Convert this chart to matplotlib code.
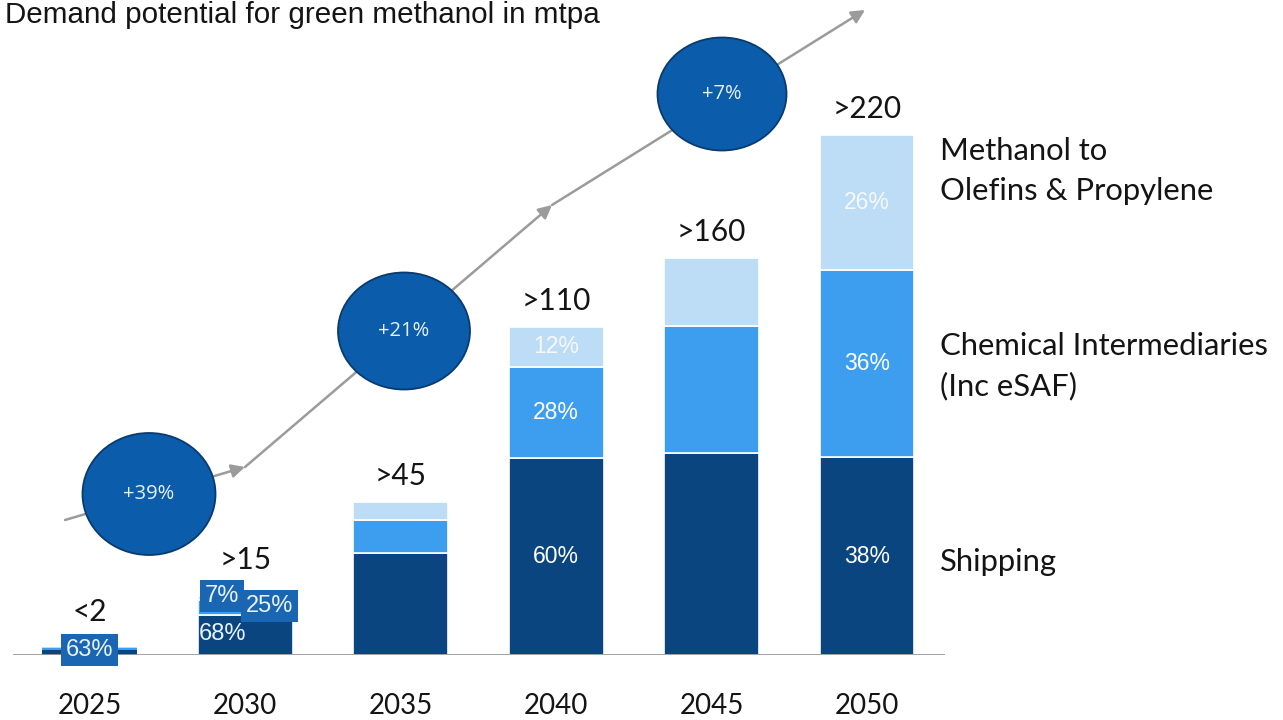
import matplotlib
matplotlib.use("Agg")
import matplotlib.pyplot as plt
from matplotlib.patches import Ellipse
import numpy as np

# ---- data -------------------------------------------------------------
years = ["2025", "2030", "2035", "2040", "2045", "2050"]
totals = [3.4, 25.0, 64.7, 138.7, 168.0, 220.0]          # bar heights (mtpa)
total_labels = ["<2", ">15", ">45", ">110", ">160", ">220"]
shipping_pct = [63, 68, 67, 60, 51, 38]
chemical_pct = [30, 25, 21, 28, 32, 36]
olefins_pct = [7, 7, 12, 12, 17, 26]
segment_names = ["Shipping",
                 "Chemical Intermediaries\n(Inc eSAF)",
                 "Methanol to\nOlefins & Propylene"]
growth_labels = ["+39%", "+21%", "+7%"]

# ---- styling ----------------------------------------------------------
C_SHIP = "#0a457f"
C_CHEM = "#3d9def"
C_OLEF = "#bddcf5"
C_BOX = "#1a66b3"
C_CIRC = "#0b5cab"
C_CIRC_EDGE = "#0a3b6e"
C_GREY = "#9b9b9b"
TXT = "#141414"
SANS = ["Lato", "DejaVu Sans"]
ARIAL = ["Liberation Sans", "DejaVu Sans"]

W, H = 1283, 720
fig = plt.figure(figsize=(W / 100, H / 100), dpi=100)
fig.patch.set_facecolor("white")

ax = fig.add_axes([13 / W, 65 / H, 932 / W, 567 / H])
ax.set_xlim(-0.495, 5.502)
ax.set_ylim(0, 240)
for s in ax.spines.values():
    s.set_visible(False)
ax.set_yticks([])

x = np.arange(len(years))
tot = np.array(totals)
ship = tot * np.array(shipping_pct) / 100
chem = tot * np.array(chemical_pct) / 100
olef = tot * np.array(olefins_pct) / 100

bw = 0.611
lw = [0, 1.2, 1.2, 1.2, 1.2, 1.2]
ax.bar(x, ship, bw, color=C_SHIP, edgecolor="white", linewidth=lw, zorder=2)
ax.bar(x, chem, bw, bottom=ship, color=C_CHEM, edgecolor="white", linewidth=lw, zorder=2)
ax.bar(x, olef, bw, bottom=ship + chem, color=C_OLEF, edgecolor="white", linewidth=lw, zorder=2)
ax.axhline(0, color=C_GREY, lw=2, zorder=3)

ax.set_xticks(x, years)
ax.tick_params(axis="x", length=0, pad=27)
for t in ax.get_xticklabels():
    t.set_fontfamily(SANS)
    t.set_fontsize(20)
    t.set_color(TXT)

# total labels above bars
lift = [25, 26, 19, 19, 19, 19]
for xi, t, lab, lf in zip(x, tot, total_labels, lift):
    ax.annotate(lab, (xi, t), xytext=(0, lf), textcoords="offset points",
                ha="center", va="center", fontsize=21.5, family=SANS, color=TXT)

# share labels centred in segments
pct_kw = dict(ha="center", va="center", fontsize=16.5, family=ARIAL, zorder=4)
for i in (3, 5):
    ax.text(x[i], ship[i] / 2, f"{shipping_pct[i]}%", color="white", **pct_kw)
    ax.text(x[i], ship[i] + chem[i] / 2, f"{chemical_pct[i]}%", color="white", **pct_kw)
    ax.text(x[i], ship[i] + chem[i] + olef[i] / 2, f"{olefins_pct[i]}%",
            color="#f4f9fe", **pct_kw)

# boxed share labels on the small bars
box = dict(boxstyle="square,pad=0.2", fc=C_BOX, ec="none")
box_kw = dict(ha="center", va="center", fontsize=17, family=ARIAL,
              color="#e8f3fd", zorder=5)
ax.text(x[0], 2.1, f"{shipping_pct[0]}%", bbox=box, **box_kw)
ax.text(x[1] - 0.148, 25.0, f"{olefins_pct[1]}%", bbox=box, **box_kw)
ax.text(x[1] + 0.154, 20.7, f"{chemical_pct[1]}%", bbox=box, **box_kw)
ax.text(x[1] - 0.148, 8.9, f"{shipping_pct[1]}%", **box_kw)

# ---- overlay in pixel space: growth path and circles -----------------
ov = fig.add_axes([0, 0, 1, 1])
ov.set_xlim(0, W)
ov.set_ylim(H, 0)
ov.axis("off")

path = [(65, 520), (245, 467), (552, 205), (865, 10)]
for a, b in zip(path[:-1], path[1:]):
    ov.annotate("", xy=b, xytext=a,
                arrowprops=dict(arrowstyle="-|>", color=C_GREY, lw=1.8,
                                mutation_scale=20, shrinkA=0, shrinkB=0))

circles = [((149, 494), 133, 122), ((404, 331), 132, 117), ((722, 94), 129, 113)]
for (c, w, h), lab in zip(circles, growth_labels):
    ov.add_patch(Ellipse(c, w, h, fc=C_CIRC, ec=C_CIRC_EDGE, lw=1.3, zorder=3))
    ov.text(c[0], c[1], lab, ha="center", va="center", color="#e6f1fb",
            fontsize=14.5, family=["Open Sans", "DejaVu Sans"], zorder=4)

# segment names to the right
name_y = [562, 366, 171]
for name, yy in zip(segment_names, name_y):
    ov.text(940, yy, name, ha="left", va="center", fontsize=22.3, family=SANS,
            color=TXT, linespacing=1.5)

fig.text(5 / W, 1 - 15 / H, "Demand potential for green methanol in mtpa",
         ha="left", va="center", fontsize=21.3, family=ARIAL, color=TXT)

fig.savefig("out.png", dpi=100, facecolor="white")
